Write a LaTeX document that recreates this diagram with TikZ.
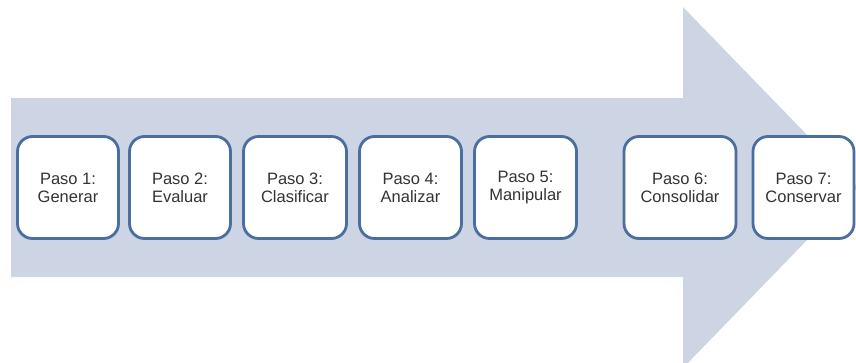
\documentclass[tikz,border=0pt]{standalone}
\usepackage{fontspec}
\setmainfont{Liberation Sans}
\definecolor{arrowfill}{HTML}{CDD5E4}
\definecolor{boxline}{HTML}{4A6EA0}
\definecolor{txt}{HTML}{333333}
\begin{document}
\begin{tikzpicture}[x=1pt,y=-1pt,
  stepbox/.style={draw=boxline, line width=2.8pt, fill=white, rounded corners=15pt,
    minimum height=102pt, align=center, inner sep=0pt,
    font=\fontsize{16.5}{18}\selectfont, text=txt}]
\useasboundingbox (0,0) rectangle (856,362);
\begin{scope}
\clip (0,0) rectangle (856,362);
\fill[arrowfill] (11,98) -- (683,98) -- (683,7) -- (858,187.5) -- (683,368) -- (683,277) -- (11,277) -- cycle;
\end{scope}
\node[stepbox, minimum width=101pt] (s1) at (68,187.5) {Paso 1:\\Generar};
\node[stepbox, minimum width=101pt] (s2) at (180,187.5) {Paso 2:\\Evaluar};
\node[stepbox, minimum width=103pt] (s3) at (295,187.5) {Paso 3:\\Clasificar};
\node[stepbox, minimum width=102pt] (s4) at (410.5,187.5) {Paso 4:\\Analizar};
\node[stepbox, minimum width=102pt] (s5) at (525.5,187.5) {Paso 5:\\Manipular};
\node[stepbox, minimum width=112pt] (s6) at (680,187.5) {Paso 6:\\Consolidar};
\node[stepbox, minimum width=101pt] (s7) at (803.5,187.5) {Paso 7:\\Conservar};
\end{tikzpicture}
\end{document}
